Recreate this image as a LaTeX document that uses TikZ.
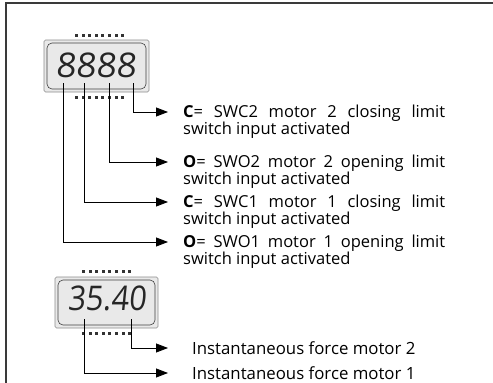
\documentclass[tikz,border=0pt]{standalone}
\usepackage{fontspec}
\setmainfont{Open Sans}
\usetikzlibrary{arrows.meta}
\definecolor{dispFill}{HTML}{E9E9E9}
\definecolor{dispEdge}{HTML}{8C8C8C}
\definecolor{frameInk}{HTML}{3A3A3A}

\begin{document}
\begin{tikzpicture}[
  x=1pt, y=-1pt,
  >={Triangle[length=12pt, width=9pt]},
  frame/.style={draw=frameInk, line width=2pt},
  lead/.style={draw=black, line width=0.8pt},
  outerbox/.style={draw=dispEdge, fill=dispFill, line width=0.6pt, rounded corners=1.5pt},
  innerbox/.style={draw=black!75, line width=0.6pt, rounded corners=5pt},
  segs/.style={font=\fontsize{34}{34}\selectfont, text=black!85, inner sep=0pt,
               xslant=0.1, xscale=0.9},
  desc/.style={font=\fontsize{16.5}{13.5}\selectfont, text width=262pt,
               align=justify, inner sep=0pt, anchor=base west},
  force/.style={font=\fontsize{16.8}{16}\selectfont, inner sep=0pt,
                anchor=base west},
  pin/.style={fill=black!80},
]
\useasboundingbox (0,0) rectangle (493,383);

% the open frame, top and left edge only
\draw[frame] (6,383) -- (6,3) -- (493,3);

% ============================ display with 8888 ==============================
\draw[outerbox] (44,40) rectangle (149,92);
\draw[innerbox] (47,43) rectangle (146,89);
\foreach \i in {0,...,7} {
  \fill[pin] ({75+\i*6.6},34) rectangle ++(3,3);
  \fill[pin] ({75+\i*6.6},96) rectangle ++(3,3);
}
\node[segs, xscale=1.15] (eights) at (97,65) {8888};

\coordinate (d1) at (63,83);
\coordinate (d2) at (84,83);
\coordinate (d3) at (109,83);
\coordinate (d4) at (133,83);

\coordinate (a1) at (168,112);
\coordinate (a2) at (168,162);
\coordinate (a3) at (168,202);
\coordinate (a4) at (168,242);

\node[desc] (swc2) at (183,117)
  {{\bfseries C}= SWC2 motor 2 closing limit\linebreak switch input activated};
\node[desc] (swo2) at (183,167)
  {{\bfseries O}= SWO2 motor 2 opening limit\linebreak switch input activated};
\node[desc] (swc1) at (183,207)
  {{\bfseries C}= SWC1 motor 1 closing limit\linebreak switch input activated};
\node[desc] (swo1) at (183,247)
  {{\bfseries O}= SWO1 motor 1 opening limit\linebreak switch input activated};

\draw[lead, ->] (d4) |- (a1);
\draw[lead, ->] (d3) |- (a2);
\draw[lead, ->] (d2) |- (a3);
\draw[lead, ->] (d1) |- (a4);

% ============================ display with 35.40 =============================
\draw[outerbox] (55,277) rectangle (158,328);
\draw[innerbox] (58,280) rectangle (155,325);
\foreach \i in {0,...,7} {
  \fill[pin] ({82+\i*6.6},270) rectangle ++(3,3);
  \fill[pin] ({82+\i*6.6},332) rectangle ++(3,3);
}
\node[segs] (force) at (108,298) {35.40};

\coordinate (e1) at (84,319);
\coordinate (e2) at (131,319);
\coordinate (b1) at (168,348);
\coordinate (b2) at (168,373);

\node[force] (motor2) at (192,354) {Instantaneous force motor 2};
\node[force] (motor1) at (192,379) {Instantaneous force motor 1};

\draw[lead, ->] (e2) |- (b1);
\draw[lead, ->] (e1) |- (b2);
\end{tikzpicture}
\end{document}
